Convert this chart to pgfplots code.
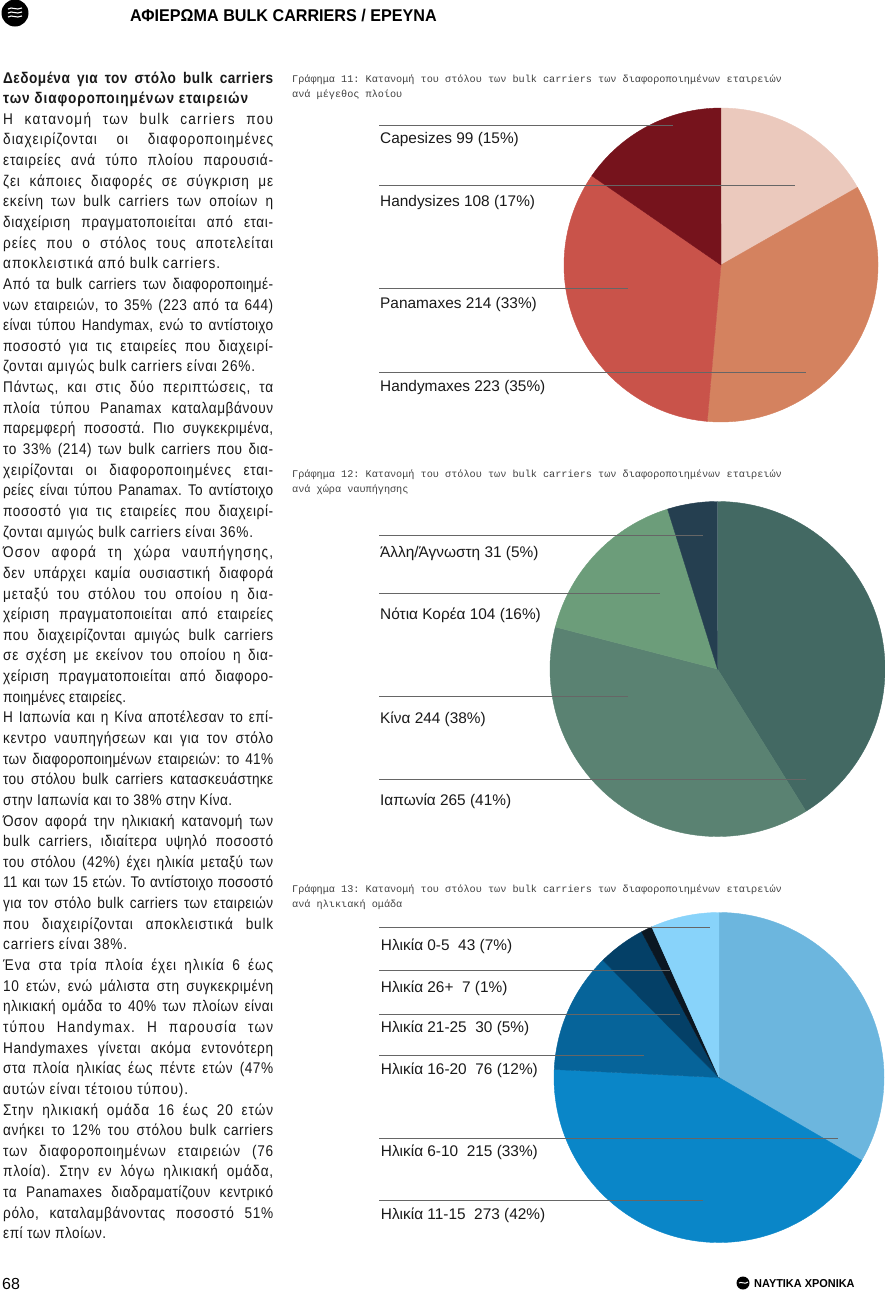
\documentclass[border=0pt]{standalone}
\usepackage{fontspec}
\usepackage{graphicx}
\usepackage{pgfplots}
\pgfplotsset{compat=1.18}
\setmainfont{Liberation Sans}
\newfontfamily\bodyfont{Liberation Sans}[FakeStretch=0.88]
\newfontfamily\labfont{Liberation Sans}
\newfontfamily\capfont{Liberation Mono}
\newfontfamily\headfont{Liberation Sans}[FakeStretch=0.95]
\frenchspacing

% slice colours
\definecolor{hs}{HTML}{EBC9BD}
\definecolor{hm}{HTML}{D4825F}
\definecolor{pm}{HTML}{C9534A}
\definecolor{cs}{HTML}{76131C}
\definecolor{jp}{HTML}{436963}
\definecolor{cn}{HTML}{5A8272}
\definecolor{kr}{HTML}{6C9D7A}
\definecolor{ot}{HTML}{253F50}
\definecolor{aA}{HTML}{6CB6DE}
\definecolor{aB}{HTML}{0A86C8}
\definecolor{aC}{HTML}{06649A}
\definecolor{aD}{HTML}{044067}
\definecolor{aE}{HTML}{0B1722}
\definecolor{aF}{HTML}{88D3FA}

% one pie slice, clockwise from \piestart
\newcommand\slice[2]{%
  \pgfmathsetmacro\pieend{\piestart-#1/644*360}%
  \edef\temp{\noexpand\filldraw[fill=#2, draw=#2, line width=0.4pt] (axis cs:0,0) -- ++(\piestart:\pierad) arc[start angle=\piestart, end angle=\pieend, radius=\pierad] -- cycle;}%
  \temp
  \global\let\piestart\pieend}

% text lines set to a width: tracking takes up (part of) the slack
\newlength\colw
\newlength\tw \newlength\twb
\newcommand\fitline[3]{% width, share of slack given to tracking, text
  \setlength\colw{#1pt}%
  \settowidth\tw{#3}%
  \settowidth\twb{\addfontfeature{LetterSpace=10}#3}%
  \pgfmathsetmacro\ls{10*(\colw-\tw)/(\twb-\tw)}%
  \pgfmathparse{\ls>0 ? #2*\ls : \ls}\let\ls\pgfmathresult
  \makebox[\colw][s]{\addfontfeature{LetterSpace=\ls}#3}}
\newcommand\JL[2]{\node[txbody] at (3,{83+(#1-1)*20.64}) {\fitline{270}{0.5}{#2}};}
\newcommand\RL[3]{\node[txbody] at (3,{83+(#1-1)*20.64}) {\fitline{#2}{1}{#3}};}

\pgfplotsset{pie/.style={anchor=center, scale only axis, hide axis,
  xmin=-1, xmax=1, ymin=-1, ymax=1, clip=false}}

\begin{document}
\begin{tikzpicture}[x=1pt, y=-1pt,
  txbody/.style={anchor=base west, inner sep=0pt, font=\bodyfont\fontsize{15.5}{19}\selectfont, text=black!90},
  txlab/.style={anchor=base west, inner sep=0pt, font=\labfont\fontsize{15.4}{18}\selectfont, text=black!90},
  txcap/.style={anchor=base west, inner sep=0pt, font=\capfont\fontsize{10.2}{12}\selectfont, text=black!75},
  txlead/.style={line width=0.9pt, black!60}]
\path[use as bounding box] (0,0) rectangle (885,1291);

% ---- Γράφημα 11
\begin{axis}[pie, at={(721pt,-265pt)}, width=314pt, height=314pt]
  \def\piestart{90}\def\pierad{157pt}
  \slice{108}{hs}\slice{223}{hm}\slice{214}{pm}\slice{99}{cs}
\end{axis}

% ---- Γράφημα 12
\begin{axis}[pie, at={(717.5pt,-669pt)}, width=335pt, height=335pt]
  \def\piestart{90}\def\pierad{167.5pt}
  \slice{265}{jp}\slice{244}{cn}\slice{104}{kr}\slice{31}{ot}
\end{axis}

% ---- Γράφημα 13
\begin{axis}[pie, at={(719pt,-1077.5pt)}, width=330pt, height=330pt]
  \def\piestart{90}\def\pierad{165pt}
  \slice{215}{aA}\slice{273}{aB}\slice{76}{aC}\slice{30}{aD}\slice{7}{aE}\slice{43}{aF}
\end{axis}

% header
\fill[black] (15,13) circle[radius=13.5pt];
\draw[white, line width=1.1pt] (8,9) .. controls (12,6) and (16,11) .. (22,8);
\draw[white, line width=1.1pt] (8,13) .. controls (12,10) and (16,15) .. (22,12);
\draw[white, line width=1.1pt] (8,17) .. controls (12,14) and (16,19) .. (22,16);
\node[anchor=base west, inner sep=0pt, font=\headfont\bfseries\fontsize{17}{17}\selectfont] at (130,21) {ΑΦΙΕΡΩΜΑ BULK CARRIERS / ΕΡΕΥΝΑ};

% captions
\node[txcap] at (292,82) {Γράφημα 11: Κατανομή του στόλου των bulk carriers των διαφοροποιημένων εταιρειών};
\node[txcap] at (292,97) {ανά μέγεθος πλοίου};
\node[txcap] at (292,477) {Γράφημα 12: Κατανομή του στόλου των bulk carriers των διαφοροποιημένων εταιρειών};
\node[txcap] at (292,492) {ανά χώρα ναυπήγησης};
\node[txcap] at (292,892) {Γράφημα 13: Κατανομή του στόλου των bulk carriers των διαφοροποιημένων εταιρειών};
\node[txcap] at (292,907) {ανά ηλικιακή ομάδα};

% pie 1 labels
\draw[txlead] (379,125.7) -- (673,125.7);
\draw[txlead] (379,185.7) -- (795,185.7);
\draw[txlead] (379,288) -- (628,288);
\draw[txlead] (379,372) -- (806,372);
\node[txlab] at (380,143.3) {Capesizes 99 (15\%)};
\node[txlab] at (380,206) {Handysizes 108 (17\%)};
\node[txlab] at (380,308.5) {Panamaxes 214 (33\%)};
\node[txlab] at (380,391.5) {Handymaxes 223 (35\%)};

% pie 2 labels
\draw[txlead] (379,535) -- (703,535);
\draw[txlead] (379,593) -- (660,593);
\draw[txlead] (379,696) -- (628,696);
\draw[txlead] (379,779) -- (806,779);
\node[txlab] at (380,557.5) {Άλλη/Άγνωστη 31 (5\%)};
\node[txlab] at (380,619.5) {Νότια Κορέα 104 (16\%)};
\node[txlab] at (380,723.5) {Κίνα 244 (38\%)};
\node[txlab] at (380,805.5) {Ιαπωνία 265 (41\%)};

% pie 3 labels
\draw[txlead] (379,927.7) -- (710,927.7);
\draw[txlead] (379,970) -- (670,970);
\draw[txlead] (379,1014.3) -- (680,1014.3);
\draw[txlead] (379,1055.3) -- (644,1055.3);
\draw[txlead] (379,1138.3) -- (838,1138.3);
\draw[txlead] (379,1200.7) -- (703,1200.7);
\node[txlab] at (380.7,950.7) {Ηλικία 0-5\ \ 43 (7\%)};
\node[txlab] at (380.7,992) {Ηλικία 26+\ \ 7 (1\%)};
\node[txlab] at (380.7,1032.7) {Ηλικία 21-25\ \ 30 (5\%)};
\node[txlab] at (380.7,1074) {Ηλικία 16-20\ \ 76 (12\%)};
\node[txlab] at (380.7,1156.7) {Ηλικία 6-10\ \ 215 (33\%)};
\node[txlab] at (380.7,1219) {Ηλικία 11-15\ \ 273 (42\%)};

% body text
\JL{1}{\bfseries Δεδομένα για τον στόλο bulk carriers}
\RL{2}{245}{\bfseries των διαφοροποιημένων εταιρειών}
\JL{3}{Η κατανομή των bulk carriers που}
\JL{4}{διαχειρίζονται οι διαφοροποιημένες}
\JL{5}{εταιρείες ανά τύπο πλοίου παρουσιά-}
\JL{6}{ζει κάποιες διαφορές σε σύγκριση με}
\JL{7}{εκείνη των bulk carriers των οποίων η}
\JL{8}{διαχείριση πραγματοποιείται από εται-}
\JL{9}{ρείες που ο στόλος τους αποτελείται}
\RL{10}{217}{αποκλειστικά από bulk carriers.}
\JL{11}{Από τα bulk carriers των διαφοροποιημέ-}
\JL{12}{νων εταιρειών, το 35\% (223 από τα 644)}
\JL{13}{είναι τύπου Handymax, ενώ το αντίστοιχο}
\JL{14}{ποσοστό για τις εταιρείες που διαχειρί-}
\RL{15}{252}{ζονται αμιγώς bulk carriers είναι 26\%.}
\JL{16}{Πάντως, και στις δύο περιπτώσεις, τα}
\JL{17}{πλοία τύπου Panamax καταλαμβάνουν}
\JL{18}{παρεμφερή ποσοστά. Πιο συγκεκριμένα,}
\JL{19}{το 33\% (214) των bulk carriers που δια-}
\JL{20}{χειρίζονται οι διαφοροποιημένες εται-}
\JL{21}{ρείες είναι τύπου Panamax. Το αντίστοιχο}
\JL{22}{ποσοστό για τις εταιρείες που διαχειρί-}
\RL{23}{250}{ζονται αμιγώς bulk carriers είναι 36\%.}
\JL{24}{Όσον αφορά τη χώρα ναυπήγησης,}
\JL{25}{δεν υπάρχει καμία ουσιαστική διαφορά}
\JL{26}{μεταξύ του στόλου του οποίου η δια-}
\JL{27}{χείριση πραγματοποιείται από εταιρείες}
\JL{28}{που διαχειρίζονται αμιγώς bulk carriers}
\JL{29}{σε σχέση με εκείνον του οποίου η δια-}
\JL{30}{χείριση πραγματοποιείται από διαφορο-}
\RL{31}{123}{ποιημένες εταιρείες.}
\JL{32}{Η Ιαπωνία και η Κίνα αποτέλεσαν το επί-}
\JL{33}{κεντρο ναυπηγήσεων και για τον στόλο}
\JL{34}{των διαφοροποιημένων εταιρειών: το 41\%}
\JL{35}{του στόλου bulk carriers κατασκευάστηκε}
\RL{36}{229}{στην Ιαπωνία και το 38\% στην Κίνα.}
\JL{37}{Όσον αφορά την ηλικιακή κατανομή των}
\JL{38}{bulk carriers, ιδιαίτερα υψηλό ποσοστό}
\JL{39}{του στόλου (42\%) έχει ηλικία μεταξύ των}
\JL{40}{11 και των 15 ετών. Το αντίστοιχο ποσοστό}
\JL{41}{για τον στόλο bulk carriers των εταιρειών}
\JL{42}{που διαχειρίζονται αποκλειστικά bulk}
\RL{43}{124}{carriers είναι 38\%.}
\JL{44}{Ένα στα τρία πλοία έχει ηλικία 6 έως}
\JL{45}{10 ετών, ενώ μάλιστα στη συγκεκριμένη}
\JL{46}{ηλικιακή ομάδα το 40\% των πλοίων είναι}
\JL{47}{τύπου Handymax. Η παρουσία των}
\JL{48}{Handymaxes γίνεται ακόμα εντονότερη}
\JL{49}{στα πλοία ηλικίας έως πέντε ετών (47\%}
\RL{50}{185}{αυτών είναι τέτοιου τύπου).}
\JL{51}{Στην ηλικιακή ομάδα 16 έως 20 ετών}
\JL{52}{ανήκει το 12\% του στόλου bulk carriers}
\JL{53}{των διαφοροποιημένων εταιρειών (76}
\JL{54}{πλοία). Στην εν λόγω ηλικιακή ομάδα,}
\JL{55}{τα Panamaxes διαδραματίζουν κεντρικό}
\JL{56}{ρόλο, καταλαμβάνοντας ποσοστό 51\%}
\RL{57}{103}{επί των πλοίων.}

% footer
\node[anchor=base west, inner sep=0pt, font=\fontsize{16}{16}\selectfont] at (2,1289) {68};
\fill[black] (743,1283) circle[radius=6.5pt];
\draw[white, line width=1pt] (739,1283) .. controls (741,1281) and (745,1285) .. (748,1282);
\node[anchor=base west, inner sep=0pt, font=\headfont\bfseries\fontsize{11.5}{12}\selectfont] at (754,1287) {ΝΑΥΤΙΚΑ ΧΡΟΝΙΚΑ};
\end{tikzpicture}
\end{document}
